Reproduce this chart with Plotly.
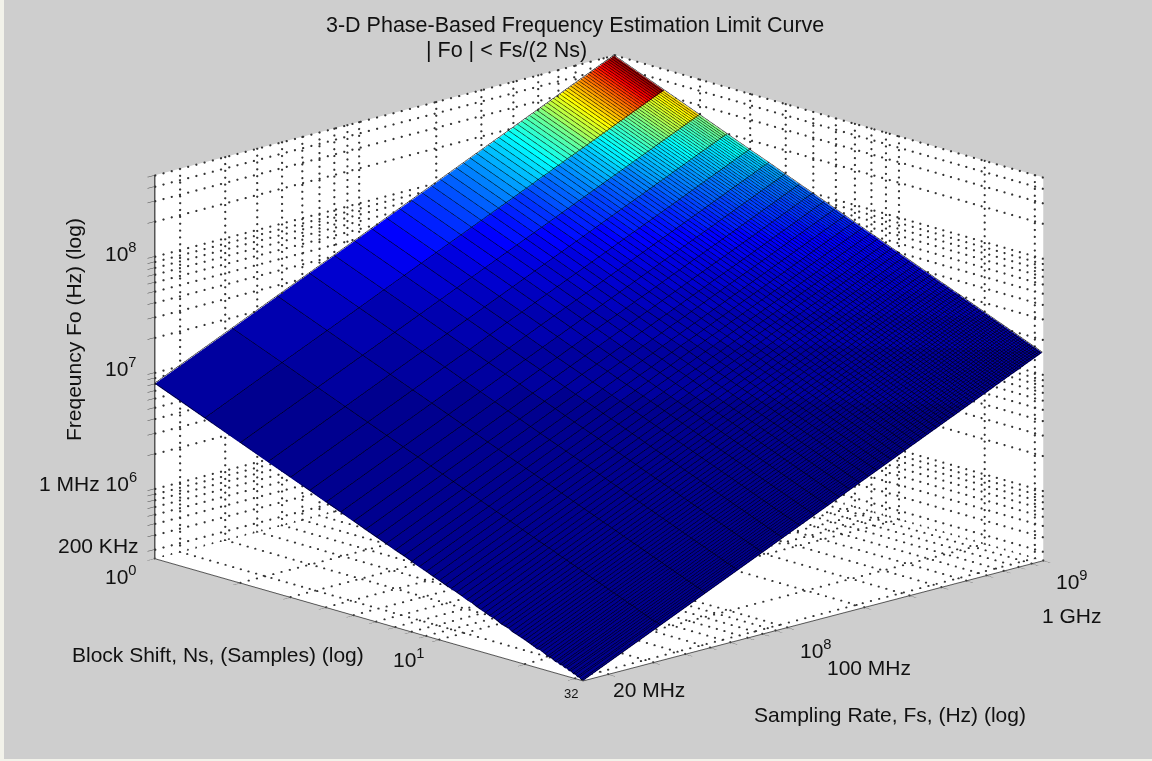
import math
import plotly.graph_objects as go

W, H = 1152, 761
ns_values = [1,1.5,2,2.5,3,3.5,4,4.5,5,5.5,6,6.5,7,7.5,8,8.5,9,9.5,10,10.5,11,11.5,12,12.5,13,13.5,14,14.5,15,15.5,16,16.5,17,17.5,18,18.5,19,19.5,20,20.5,21,21.5,22,22.5,23,23.5,24,24.5,25,25.5,26,26.5,27,27.5,28,28.5,29,29.5,30,30.5,31,31.5,32]
fs_mhz = [16,32,48,64,80,96,112,128,144,160,176,192,208,224,240,256,272,288,304,320,336,352,368,384,400,416,432,448,464,480,496,512,528,544,560,576,592,608,624,640,656,672,688,704,720,736,752,768,784,800,816,832,848,864,880,896,912,928,944,960,976,992]
fo_mhz = [
[8,16,24,32,40,48,56,64,72,80,88,96,104,112,120,128,136,144,152,160,168,176,184,192,200,208,216,224,232,240,248,256,264,272,280,288,296,304,312,320,328,336,344,352,360,368,376,384,392,400,408,416,424,432,440,448,456,464,472,480,488,496],
[5.33,10.7,16,21.3,26.7,32,37.3,42.7,48,53.3,58.7,64,69.3,74.7,80,85.3,90.7,96,101,107,112,117,123,128,133,139,144,149,155,160,165,171,176,181,187,192,197,203,208,213,219,224,229,235,240,245,251,256,261,267,272,277,283,288,293,299,304,309,315,320,325,331],
[4,8,12,16,20,24,28,32,36,40,44,48,52,56,60,64,68,72,76,80,84,88,92,96,100,104,108,112,116,120,124,128,132,136,140,144,148,152,156,160,164,168,172,176,180,184,188,192,196,200,204,208,212,216,220,224,228,232,236,240,244,248],
[3.2,6.4,9.6,12.8,16,19.2,22.4,25.6,28.8,32,35.2,38.4,41.6,44.8,48,51.2,54.4,57.6,60.8,64,67.2,70.4,73.6,76.8,80,83.2,86.4,89.6,92.8,96,99.2,102,106,109,112,115,118,122,125,128,131,134,138,141,144,147,150,154,157,160,163,166,170,173,176,179,182,186,189,192,195,198],
[2.67,5.33,8,10.7,13.3,16,18.7,21.3,24,26.7,29.3,32,34.7,37.3,40,42.7,45.3,48,50.7,53.3,56,58.7,61.3,64,66.7,69.3,72,74.7,77.3,80,82.7,85.3,88,90.7,93.3,96,98.7,101,104,107,109,112,115,117,120,123,125,128,131,133,136,139,141,144,147,149,152,155,157,160,163,165],
[2.29,4.57,6.86,9.14,11.4,13.7,16,18.3,20.6,22.9,25.1,27.4,29.7,32,34.3,36.6,38.9,41.1,43.4,45.7,48,50.3,52.6,54.9,57.1,59.4,61.7,64,66.3,68.6,70.9,73.1,75.4,77.7,80,82.3,84.6,86.9,89.1,91.4,93.7,96,98.3,101,103,105,107,110,112,114,117,119,121,123,126,128,130,133,135,137,139,142],
[2,4,6,8,10,12,14,16,18,20,22,24,26,28,30,32,34,36,38,40,42,44,46,48,50,52,54,56,58,60,62,64,66,68,70,72,74,76,78,80,82,84,86,88,90,92,94,96,98,100,102,104,106,108,110,112,114,116,118,120,122,124],
[1.78,3.56,5.33,7.11,8.89,10.7,12.4,14.2,16,17.8,19.6,21.3,23.1,24.9,26.7,28.4,30.2,32,33.8,35.6,37.3,39.1,40.9,42.7,44.4,46.2,48,49.8,51.6,53.3,55.1,56.9,58.7,60.4,62.2,64,65.8,67.6,69.3,71.1,72.9,74.7,76.4,78.2,80,81.8,83.6,85.3,87.1,88.9,90.7,92.4,94.2,96,97.8,99.6,101,103,105,107,108,110],
[1.6,3.2,4.8,6.4,8,9.6,11.2,12.8,14.4,16,17.6,19.2,20.8,22.4,24,25.6,27.2,28.8,30.4,32,33.6,35.2,36.8,38.4,40,41.6,43.2,44.8,46.4,48,49.6,51.2,52.8,54.4,56,57.6,59.2,60.8,62.4,64,65.6,67.2,68.8,70.4,72,73.6,75.2,76.8,78.4,80,81.6,83.2,84.8,86.4,88,89.6,91.2,92.8,94.4,96,97.6,99.2],
[1.45,2.91,4.36,5.82,7.27,8.73,10.2,11.6,13.1,14.5,16,17.5,18.9,20.4,21.8,23.3,24.7,26.2,27.6,29.1,30.5,32,33.5,34.9,36.4,37.8,39.3,40.7,42.2,43.6,45.1,46.5,48,49.5,50.9,52.4,53.8,55.3,56.7,58.2,59.6,61.1,62.5,64,65.5,66.9,68.4,69.8,71.3,72.7,74.2,75.6,77.1,78.5,80,81.5,82.9,84.4,85.8,87.3,88.7,90.2],
[1.33,2.67,4,5.33,6.67,8,9.33,10.7,12,13.3,14.7,16,17.3,18.7,20,21.3,22.7,24,25.3,26.7,28,29.3,30.7,32,33.3,34.7,36,37.3,38.7,40,41.3,42.7,44,45.3,46.7,48,49.3,50.7,52,53.3,54.7,56,57.3,58.7,60,61.3,62.7,64,65.3,66.7,68,69.3,70.7,72,73.3,74.7,76,77.3,78.7,80,81.3,82.7],
[1.23,2.46,3.69,4.92,6.15,7.38,8.62,9.85,11.1,12.3,13.5,14.8,16,17.2,18.5,19.7,20.9,22.2,23.4,24.6,25.8,27.1,28.3,29.5,30.8,32,33.2,34.5,35.7,36.9,38.2,39.4,40.6,41.8,43.1,44.3,45.5,46.8,48,49.2,50.5,51.7,52.9,54.2,55.4,56.6,57.8,59.1,60.3,61.5,62.8,64,65.2,66.5,67.7,68.9,70.2,71.4,72.6,73.8,75.1,76.3],
[1.14,2.29,3.43,4.57,5.71,6.86,8,9.14,10.3,11.4,12.6,13.7,14.9,16,17.1,18.3,19.4,20.6,21.7,22.9,24,25.1,26.3,27.4,28.6,29.7,30.9,32,33.1,34.3,35.4,36.6,37.7,38.9,40,41.1,42.3,43.4,44.6,45.7,46.9,48,49.1,50.3,51.4,52.6,53.7,54.9,56,57.1,58.3,59.4,60.6,61.7,62.9,64,65.1,66.3,67.4,68.6,69.7,70.9],
[1.07,2.13,3.2,4.27,5.33,6.4,7.47,8.53,9.6,10.7,11.7,12.8,13.9,14.9,16,17.1,18.1,19.2,20.3,21.3,22.4,23.5,24.5,25.6,26.7,27.7,28.8,29.9,30.9,32,33.1,34.1,35.2,36.3,37.3,38.4,39.5,40.5,41.6,42.7,43.7,44.8,45.9,46.9,48,49.1,50.1,51.2,52.3,53.3,54.4,55.5,56.5,57.6,58.7,59.7,60.8,61.9,62.9,64,65.1,66.1],
[1,2,3,4,5,6,7,8,9,10,11,12,13,14,15,16,17,18,19,20,21,22,23,24,25,26,27,28,29,30,31,32,33,34,35,36,37,38,39,40,41,42,43,44,45,46,47,48,49,50,51,52,53,54,55,56,57,58,59,60,61,62],
[.94,1.88,2.82,3.76,4.71,5.65,6.59,7.53,8.47,9.41,10.4,11.3,12.2,13.2,14.1,15.1,16,16.9,17.9,18.8,19.8,20.7,21.6,22.6,23.5,24.5,25.4,26.4,27.3,28.2,29.2,30.1,31.1,32,32.9,33.9,34.8,35.8,36.7,37.6,38.6,39.5,40.5,41.4,42.4,43.3,44.2,45.2,46.1,47.1,48,48.9,49.9,50.8,51.8,52.7,53.6,54.6,55.5,56.5,57.4,58.4],
[.89,1.78,2.67,3.56,4.44,5.33,6.22,7.11,8,8.89,9.78,10.7,11.6,12.4,13.3,14.2,15.1,16,16.9,17.8,18.7,19.6,20.4,21.3,22.2,23.1,24,24.9,25.8,26.7,27.6,28.4,29.3,30.2,31.1,32,32.9,33.8,34.7,35.6,36.4,37.3,38.2,39.1,40,40.9,41.8,42.7,43.6,44.4,45.3,46.2,47.1,48,48.9,49.8,50.7,51.6,52.4,53.3,54.2,55.1],
[.84,1.68,2.53,3.37,4.21,5.05,5.89,6.74,7.58,8.42,9.26,10.1,10.9,11.8,12.6,13.5,14.3,15.2,16,16.8,17.7,18.5,19.4,20.2,21.1,21.9,22.7,23.6,24.4,25.3,26.1,26.9,27.8,28.6,29.5,30.3,31.2,32,32.8,33.7,34.5,35.4,36.2,37.1,37.9,38.7,39.6,40.4,41.3,42.1,42.9,43.8,44.6,45.5,46.3,47.2,48,48.8,49.7,50.5,51.4,52.2],
[.8,1.6,2.4,3.2,4,4.8,5.6,6.4,7.2,8,8.8,9.6,10.4,11.2,12,12.8,13.6,14.4,15.2,16,16.8,17.6,18.4,19.2,20,20.8,21.6,22.4,23.2,24,24.8,25.6,26.4,27.2,28,28.8,29.6,30.4,31.2,32,32.8,33.6,34.4,35.2,36,36.8,37.6,38.4,39.2,40,40.8,41.6,42.4,43.2,44,44.8,45.6,46.4,47.2,48,48.8,49.6],
[.76,1.52,2.29,3.05,3.81,4.57,5.33,6.1,6.86,7.62,8.38,9.14,9.9,10.7,11.4,12.2,13,13.7,14.5,15.2,16,16.8,17.5,18.3,19,19.8,20.6,21.3,22.1,22.9,23.6,24.4,25.1,25.9,26.7,27.4,28.2,29,29.7,30.5,31.2,32,32.8,33.5,34.3,35,35.8,36.6,37.3,38.1,38.9,39.6,40.4,41.1,41.9,42.7,43.4,44.2,45,45.7,46.5,47.2],
[.73,1.45,2.18,2.91,3.64,4.36,5.09,5.82,6.55,7.27,8,8.73,9.45,10.2,10.9,11.6,12.4,13.1,13.8,14.5,15.3,16,16.7,17.5,18.2,18.9,19.6,20.4,21.1,21.8,22.5,23.3,24,24.7,25.5,26.2,26.9,27.6,28.4,29.1,29.8,30.5,31.3,32,32.7,33.5,34.2,34.9,35.6,36.4,37.1,37.8,38.5,39.3,40,40.7,41.5,42.2,42.9,43.6,44.4,45.1],
[.7,1.39,2.09,2.78,3.48,4.17,4.87,5.57,6.26,6.96,7.65,8.35,9.04,9.74,10.4,11.1,11.8,12.5,13.2,13.9,14.6,15.3,16,16.7,17.4,18.1,18.8,19.5,20.2,20.9,21.6,22.3,23,23.7,24.3,25,25.7,26.4,27.1,27.8,28.5,29.2,29.9,30.6,31.3,32,32.7,33.4,34.1,34.8,35.5,36.2,36.9,37.6,38.3,39,39.7,40.3,41,41.7,42.4,43.1],
[.67,1.33,2,2.67,3.33,4,4.67,5.33,6,6.67,7.33,8,8.67,9.33,10,10.7,11.3,12,12.7,13.3,14,14.7,15.3,16,16.7,17.3,18,18.7,19.3,20,20.7,21.3,22,22.7,23.3,24,24.7,25.3,26,26.7,27.3,28,28.7,29.3,30,30.7,31.3,32,32.7,33.3,34,34.7,35.3,36,36.7,37.3,38,38.7,39.3,40,40.7,41.3],
[.64,1.28,1.92,2.56,3.2,3.84,4.48,5.12,5.76,6.4,7.04,7.68,8.32,8.96,9.6,10.2,10.9,11.5,12.2,12.8,13.4,14.1,14.7,15.4,16,16.6,17.3,17.9,18.6,19.2,19.8,20.5,21.1,21.8,22.4,23,23.7,24.3,25,25.6,26.2,26.9,27.5,28.2,28.8,29.4,30.1,30.7,31.4,32,32.6,33.3,33.9,34.6,35.2,35.8,36.5,37.1,37.8,38.4,39,39.7],
[.62,1.23,1.85,2.46,3.08,3.69,4.31,4.92,5.54,6.15,6.77,7.38,8,8.62,9.23,9.85,10.5,11.1,11.7,12.3,12.9,13.5,14.2,14.8,15.4,16,16.6,17.2,17.8,18.5,19.1,19.7,20.3,20.9,21.5,22.2,22.8,23.4,24,24.6,25.2,25.8,26.5,27.1,27.7,28.3,28.9,29.5,30.2,30.8,31.4,32,32.6,33.2,33.8,34.5,35.1,35.7,36.3,36.9,37.5,38.2],
[.59,1.19,1.78,2.37,2.96,3.56,4.15,4.74,5.33,5.93,6.52,7.11,7.7,8.3,8.89,9.48,10.1,10.7,11.3,11.9,12.4,13,13.6,14.2,14.8,15.4,16,16.6,17.2,17.8,18.4,19,19.6,20.1,20.7,21.3,21.9,22.5,23.1,23.7,24.3,24.9,25.5,26.1,26.7,27.3,27.9,28.4,29,29.6,30.2,30.8,31.4,32,32.6,33.2,33.8,34.4,35,35.6,36.1,36.7],
[.57,1.14,1.71,2.29,2.86,3.43,4,4.57,5.14,5.71,6.29,6.86,7.43,8,8.57,9.14,9.71,10.3,10.9,11.4,12,12.6,13.1,13.7,14.3,14.9,15.4,16,16.6,17.1,17.7,18.3,18.9,19.4,20,20.6,21.1,21.7,22.3,22.9,23.4,24,24.6,25.1,25.7,26.3,26.9,27.4,28,28.6,29.1,29.7,30.3,30.9,31.4,32,32.6,33.1,33.7,34.3,34.9,35.4],
[.55,1.1,1.66,2.21,2.76,3.31,3.86,4.41,4.97,5.52,6.07,6.62,7.17,7.72,8.28,8.83,9.38,9.93,10.5,11,11.6,12.1,12.7,13.2,13.8,14.3,14.9,15.4,16,16.6,17.1,17.7,18.2,18.8,19.3,19.9,20.4,21,21.5,22.1,22.6,23.2,23.7,24.3,24.8,25.4,25.9,26.5,27,27.6,28.1,28.7,29.2,29.8,30.3,30.9,31.4,32,32.6,33.1,33.7,34.2],
[.53,1.07,1.6,2.13,2.67,3.2,3.73,4.27,4.8,5.33,5.87,6.4,6.93,7.47,8,8.53,9.07,9.6,10.1,10.7,11.2,11.7,12.3,12.8,13.3,13.9,14.4,14.9,15.5,16,16.5,17.1,17.6,18.1,18.7,19.2,19.7,20.3,20.8,21.3,21.9,22.4,22.9,23.5,24,24.5,25.1,25.6,26.1,26.7,27.2,27.7,28.3,28.8,29.3,29.9,30.4,30.9,31.5,32,32.5,33.1],
[.52,1.03,1.55,2.06,2.58,3.1,3.61,4.13,4.65,5.16,5.68,6.19,6.71,7.23,7.74,8.26,8.77,9.29,9.81,10.3,10.8,11.4,11.9,12.4,12.9,13.4,13.9,14.5,15,15.5,16,16.5,17,17.5,18.1,18.6,19.1,19.6,20.1,20.6,21.2,21.7,22.2,22.7,23.2,23.7,24.3,24.8,25.3,25.8,26.3,26.8,27.4,27.9,28.4,28.9,29.4,29.9,30.5,31,31.5,32],
[.5,1,1.5,2,2.5,3,3.5,4,4.5,5,5.5,6,6.5,7,7.5,8,8.5,9,9.5,10,10.5,11,11.5,12,12.5,13,13.5,14,14.5,15,15.5,16,16.5,17,17.5,18,18.5,19,19.5,20,20.5,21,21.5,22,22.5,23,23.5,24,24.5,25,25.5,26,26.5,27,27.5,28,28.5,29,29.5,30,30.5,31],
[.48,.97,1.45,1.94,2.42,2.91,3.39,3.88,4.36,4.85,5.33,5.82,6.3,6.79,7.27,7.76,8.24,8.73,9.21,9.7,10.2,10.7,11.2,11.6,12.1,12.6,13.1,13.6,14.1,14.5,15,15.5,16,16.5,17,17.5,17.9,18.4,18.9,19.4,19.9,20.4,20.8,21.3,21.8,22.3,22.8,23.3,23.8,24.2,24.7,25.2,25.7,26.2,26.7,27.2,27.6,28.1,28.6,29.1,29.6,30.1],
[.47,.94,1.41,1.88,2.35,2.82,3.29,3.76,4.24,4.71,5.18,5.65,6.12,6.59,7.06,7.53,8,8.47,8.94,9.41,9.88,10.4,10.8,11.3,11.8,12.2,12.7,13.2,13.6,14.1,14.6,15.1,15.5,16,16.5,16.9,17.4,17.9,18.4,18.8,19.3,19.8,20.2,20.7,21.2,21.6,22.1,22.6,23.1,23.5,24,24.5,24.9,25.4,25.9,26.4,26.8,27.3,27.8,28.2,28.7,29.2],
[.46,.91,1.37,1.83,2.29,2.74,3.2,3.66,4.11,4.57,5.03,5.49,5.94,6.4,6.86,7.31,7.77,8.23,8.69,9.14,9.6,10.1,10.5,11,11.4,11.9,12.3,12.8,13.3,13.7,14.2,14.6,15.1,15.5,16,16.5,16.9,17.4,17.8,18.3,18.7,19.2,19.7,20.1,20.6,21,21.5,21.9,22.4,22.9,23.3,23.8,24.2,24.7,25.1,25.6,26.1,26.5,27,27.4,27.9,28.3],
[.44,.89,1.33,1.78,2.22,2.67,3.11,3.56,4,4.44,4.89,5.33,5.78,6.22,6.67,7.11,7.56,8,8.44,8.89,9.33,9.78,10.2,10.7,11.1,11.6,12,12.4,12.9,13.3,13.8,14.2,14.7,15.1,15.6,16,16.4,16.9,17.3,17.8,18.2,18.7,19.1,19.6,20,20.4,20.9,21.3,21.8,22.2,22.7,23.1,23.6,24,24.4,24.9,25.3,25.8,26.2,26.7,27.1,27.6],
[.43,.86,1.3,1.73,2.16,2.59,3.03,3.46,3.89,4.32,4.76,5.19,5.62,6.05,6.49,6.92,7.35,7.78,8.22,8.65,9.08,9.51,9.95,10.4,10.8,11.2,11.7,12.1,12.5,13,13.4,13.8,14.3,14.7,15.1,15.6,16,16.4,16.9,17.3,17.7,18.2,18.6,19,19.5,19.9,20.3,20.8,21.2,21.6,22.1,22.5,22.9,23.4,23.8,24.2,24.6,25.1,25.5,25.9,26.4,26.8],
[.42,.84,1.26,1.68,2.11,2.53,2.95,3.37,3.79,4.21,4.63,5.05,5.47,5.89,6.32,6.74,7.16,7.58,8,8.42,8.84,9.26,9.68,10.1,10.5,10.9,11.4,11.8,12.2,12.6,13.1,13.5,13.9,14.3,14.7,15.2,15.6,16,16.4,16.8,17.3,17.7,18.1,18.5,18.9,19.4,19.8,20.2,20.6,21.1,21.5,21.9,22.3,22.7,23.2,23.6,24,24.4,24.8,25.3,25.7,26.1],
[.41,.82,1.23,1.64,2.05,2.46,2.87,3.28,3.69,4.1,4.51,4.92,5.33,5.74,6.15,6.56,6.97,7.38,7.79,8.21,8.62,9.03,9.44,9.85,10.3,10.7,11.1,11.5,11.9,12.3,12.7,13.1,13.5,13.9,14.4,14.8,15.2,15.6,16,16.4,16.8,17.2,17.6,18.1,18.5,18.9,19.3,19.7,20.1,20.5,20.9,21.3,21.7,22.2,22.6,23,23.4,23.8,24.2,24.6,25,25.4],
[.4,.8,1.2,1.6,2,2.4,2.8,3.2,3.6,4,4.4,4.8,5.2,5.6,6,6.4,6.8,7.2,7.6,8,8.4,8.8,9.2,9.6,10,10.4,10.8,11.2,11.6,12,12.4,12.8,13.2,13.6,14,14.4,14.8,15.2,15.6,16,16.4,16.8,17.2,17.6,18,18.4,18.8,19.2,19.6,20,20.4,20.8,21.2,21.6,22,22.4,22.8,23.2,23.6,24,24.4,24.8],
[.39,.78,1.17,1.56,1.95,2.34,2.73,3.12,3.51,3.9,4.29,4.68,5.07,5.46,5.85,6.24,6.63,7.02,7.41,7.8,8.2,8.59,8.98,9.37,9.76,10.1,10.5,10.9,11.3,11.7,12.1,12.5,12.9,13.3,13.7,14,14.4,14.8,15.2,15.6,16,16.4,16.8,17.2,17.6,18,18.3,18.7,19.1,19.5,19.9,20.3,20.7,21.1,21.5,21.9,22.2,22.6,23,23.4,23.8,24.2],
[.38,.76,1.14,1.52,1.9,2.29,2.67,3.05,3.43,3.81,4.19,4.57,4.95,5.33,5.71,6.1,6.48,6.86,7.24,7.62,8,8.38,8.76,9.14,9.52,9.9,10.3,10.7,11,11.4,11.8,12.2,12.6,13,13.3,13.7,14.1,14.5,14.9,15.2,15.6,16,16.4,16.8,17.1,17.5,17.9,18.3,18.7,19,19.4,19.8,20.2,20.6,21,21.3,21.7,22.1,22.5,22.9,23.2,23.6],
[.37,.74,1.12,1.49,1.86,2.23,2.6,2.98,3.35,3.72,4.09,4.47,4.84,5.21,5.58,5.95,6.33,6.7,7.07,7.44,7.81,8.19,8.56,8.93,9.3,9.67,10,10.4,10.8,11.2,11.5,11.9,12.3,12.7,13,13.4,13.8,14.1,14.5,14.9,15.3,15.6,16,16.4,16.7,17.1,17.5,17.9,18.2,18.6,19,19.3,19.7,20.1,20.5,20.8,21.2,21.6,22,22.3,22.7,23.1],
[.36,.73,1.09,1.45,1.82,2.18,2.55,2.91,3.27,3.64,4,4.36,4.73,5.09,5.45,5.82,6.18,6.55,6.91,7.27,7.64,8,8.36,8.73,9.09,9.45,9.82,10.2,10.5,10.9,11.3,11.6,12,12.4,12.7,13.1,13.5,13.8,14.2,14.5,14.9,15.3,15.6,16,16.4,16.7,17.1,17.5,17.8,18.2,18.5,18.9,19.3,19.6,20,20.4,20.7,21.1,21.5,21.8,22.2,22.5],
[.36,.71,1.07,1.42,1.78,2.13,2.49,2.84,3.2,3.56,3.91,4.27,4.62,4.98,5.33,5.69,6.04,6.4,6.76,7.11,7.47,7.82,8.18,8.53,8.89,9.24,9.6,9.96,10.3,10.7,11,11.4,11.7,12.1,12.4,12.8,13.2,13.5,13.9,14.2,14.6,14.9,15.3,15.6,16,16.4,16.7,17.1,17.4,17.8,18.1,18.5,18.8,19.2,19.6,19.9,20.3,20.6,21,21.3,21.7,22],
[.35,.7,1.04,1.39,1.74,2.09,2.43,2.78,3.13,3.48,3.83,4.17,4.52,4.87,5.22,5.57,5.91,6.26,6.61,6.96,7.3,7.65,8,8.35,8.7,9.04,9.39,9.74,10.1,10.4,10.8,11.1,11.5,11.8,12.2,12.5,12.9,13.2,13.6,13.9,14.3,14.6,15,15.3,15.7,16,16.3,16.7,17,17.4,17.7,18.1,18.4,18.8,19.1,19.5,19.8,20.2,20.5,20.9,21.2,21.6],
[.34,.68,1.02,1.36,1.7,2.04,2.38,2.72,3.06,3.4,3.74,4.09,4.43,4.77,5.11,5.45,5.79,6.13,6.47,6.81,7.15,7.49,7.83,8.17,8.51,8.85,9.19,9.53,9.87,10.2,10.6,10.9,11.2,11.6,11.9,12.3,12.6,12.9,13.3,13.6,14,14.3,14.6,15,15.3,15.7,16,16.3,16.7,17,17.4,17.7,18,18.4,18.7,19.1,19.4,19.7,20.1,20.4,20.8,21.1],
[.33,.67,1,1.33,1.67,2,2.33,2.67,3,3.33,3.67,4,4.33,4.67,5,5.33,5.67,6,6.33,6.67,7,7.33,7.67,8,8.33,8.67,9,9.33,9.67,10,10.3,10.7,11,11.3,11.7,12,12.3,12.7,13,13.3,13.7,14,14.3,14.7,15,15.3,15.7,16,16.3,16.7,17,17.3,17.7,18,18.3,18.7,19,19.3,19.7,20,20.3,20.7],
[.33,.65,.98,1.31,1.63,1.96,2.29,2.61,2.94,3.27,3.59,3.92,4.24,4.57,4.9,5.22,5.55,5.88,6.2,6.53,6.86,7.18,7.51,7.84,8.16,8.49,8.82,9.14,9.47,9.8,10.1,10.4,10.8,11.1,11.4,11.8,12.1,12.4,12.7,13.1,13.4,13.7,14,14.4,14.7,15,15.3,15.7,16,16.3,16.7,17,17.3,17.6,18,18.3,18.6,18.9,19.3,19.6,19.9,20.2],
[.32,.64,.96,1.28,1.6,1.92,2.24,2.56,2.88,3.2,3.52,3.84,4.16,4.48,4.8,5.12,5.44,5.76,6.08,6.4,6.72,7.04,7.36,7.68,8,8.32,8.64,8.96,9.28,9.6,9.92,10.2,10.6,10.9,11.2,11.5,11.8,12.2,12.5,12.8,13.1,13.4,13.8,14.1,14.4,14.7,15,15.4,15.7,16,16.3,16.6,17,17.3,17.6,17.9,18.2,18.6,18.9,19.2,19.5,19.8],
[.31,.63,.94,1.25,1.57,1.88,2.2,2.51,2.82,3.14,3.45,3.76,4.08,4.39,4.71,5.02,5.33,5.65,5.96,6.27,6.59,6.9,7.22,7.53,7.84,8.16,8.47,8.78,9.1,9.41,9.73,10,10.4,10.7,11,11.3,11.6,11.9,12.2,12.5,12.9,13.2,13.5,13.8,14.1,14.4,14.7,15.1,15.4,15.7,16,16.3,16.6,16.9,17.3,17.6,17.9,18.2,18.5,18.8,19.1,19.5],
[.31,.62,.92,1.23,1.54,1.85,2.15,2.46,2.77,3.08,3.38,3.69,4,4.31,4.62,4.92,5.23,5.54,5.85,6.15,6.46,6.77,7.08,7.38,7.69,8,8.31,8.62,8.92,9.23,9.54,9.85,10.2,10.5,10.8,11.1,11.4,11.7,12,12.3,12.6,12.9,13.2,13.5,13.8,14.2,14.5,14.8,15.1,15.4,15.7,16,16.3,16.6,16.9,17.2,17.5,17.8,18.2,18.5,18.8,19.1],
[.3,.6,.91,1.21,1.51,1.81,2.11,2.42,2.72,3.02,3.32,3.62,3.92,4.23,4.53,4.83,5.13,5.43,5.74,6.04,6.34,6.64,6.94,7.25,7.55,7.85,8.15,8.45,8.75,9.06,9.36,9.66,9.96,10.3,10.6,10.9,11.2,11.5,11.8,12.1,12.4,12.7,13,13.3,13.6,13.9,14.2,14.5,14.8,15.1,15.4,15.7,16,16.3,16.6,16.9,17.2,17.5,17.8,18.1,18.4,18.7],
[.3,.59,.89,1.19,1.48,1.78,2.07,2.37,2.67,2.96,3.26,3.56,3.85,4.15,4.44,4.74,5.04,5.33,5.63,5.93,6.22,6.52,6.81,7.11,7.41,7.7,8,8.3,8.59,8.89,9.19,9.48,9.78,10.1,10.4,10.7,11,11.3,11.6,11.9,12.1,12.4,12.7,13,13.3,13.6,13.9,14.2,14.5,14.8,15.1,15.4,15.7,16,16.3,16.6,16.9,17.2,17.5,17.8,18.1,18.4],
[.29,.58,.87,1.16,1.45,1.75,2.04,2.33,2.62,2.91,3.2,3.49,3.78,4.07,4.36,4.65,4.95,5.24,5.53,5.82,6.11,6.4,6.69,6.98,7.27,7.56,7.85,8.15,8.44,8.73,9.02,9.31,9.6,9.89,10.2,10.5,10.8,11.1,11.3,11.6,11.9,12.2,12.5,12.8,13.1,13.4,13.7,14,14.3,14.5,14.8,15.1,15.4,15.7,16,16.3,16.6,16.9,17.2,17.5,17.7,18],
[.29,.57,.86,1.14,1.43,1.71,2,2.29,2.57,2.86,3.14,3.43,3.71,4,4.29,4.57,4.86,5.14,5.43,5.71,6,6.29,6.57,6.86,7.14,7.43,7.71,8,8.29,8.57,8.86,9.14,9.43,9.71,10,10.3,10.6,10.9,11.1,11.4,11.7,12,12.3,12.6,12.9,13.1,13.4,13.7,14,14.3,14.6,14.9,15.1,15.4,15.7,16,16.3,16.6,16.9,17.1,17.4,17.7],
[.28,.56,.84,1.12,1.4,1.68,1.96,2.25,2.53,2.81,3.09,3.37,3.65,3.93,4.21,4.49,4.77,5.05,5.33,5.61,5.89,6.18,6.46,6.74,7.02,7.3,7.58,7.86,8.14,8.42,8.7,8.98,9.26,9.54,9.82,10.1,10.4,10.7,10.9,11.2,11.5,11.8,12.1,12.4,12.6,12.9,13.2,13.5,13.8,14,14.3,14.6,14.9,15.2,15.4,15.7,16,16.3,16.6,16.8,17.1,17.4],
[.28,.55,.83,1.1,1.38,1.66,1.93,2.21,2.48,2.76,3.03,3.31,3.59,3.86,4.14,4.41,4.69,4.97,5.24,5.52,5.79,6.07,6.34,6.62,6.9,7.17,7.45,7.72,8,8.28,8.55,8.83,9.1,9.38,9.66,9.93,10.2,10.5,10.8,11,11.3,11.6,11.9,12.1,12.4,12.7,13,13.2,13.5,13.8,14.1,14.3,14.6,14.9,15.2,15.4,15.7,16,16.3,16.6,16.8,17.1],
[.27,.54,.81,1.08,1.36,1.63,1.9,2.17,2.44,2.71,2.98,3.25,3.53,3.8,4.07,4.34,4.61,4.88,5.15,5.42,5.69,5.97,6.24,6.51,6.78,7.05,7.32,7.59,7.86,8.14,8.41,8.68,8.95,9.22,9.49,9.76,10,10.3,10.6,10.8,11.1,11.4,11.7,11.9,12.2,12.5,12.7,13,13.3,13.6,13.8,14.1,14.4,14.6,14.9,15.2,15.5,15.7,16,16.3,16.5,16.8],
[.27,.53,.8,1.07,1.33,1.6,1.87,2.13,2.4,2.67,2.93,3.2,3.47,3.73,4,4.27,4.53,4.8,5.07,5.33,5.6,5.87,6.13,6.4,6.67,6.93,7.2,7.47,7.73,8,8.27,8.53,8.8,9.07,9.33,9.6,9.87,10.1,10.4,10.7,10.9,11.2,11.5,11.7,12,12.3,12.5,12.8,13.1,13.3,13.6,13.9,14.1,14.4,14.7,14.9,15.2,15.5,15.7,16,16.3,16.5],
[.26,.52,.79,1.05,1.31,1.57,1.84,2.1,2.36,2.62,2.89,3.15,3.41,3.67,3.93,4.2,4.46,4.72,4.98,5.25,5.51,5.77,6.03,6.3,6.56,6.82,7.08,7.34,7.61,7.87,8.13,8.39,8.66,8.92,9.18,9.44,9.7,9.97,10.2,10.5,10.8,11,11.3,11.5,11.8,12.1,12.3,12.6,12.9,13.1,13.4,13.6,13.9,14.2,14.4,14.7,15,15.2,15.5,15.7,16,16.3],
[.26,.52,.77,1.03,1.29,1.55,1.81,2.06,2.32,2.58,2.84,3.1,3.35,3.61,3.87,4.13,4.39,4.65,4.9,5.16,5.42,5.68,5.94,6.19,6.45,6.71,6.97,7.23,7.48,7.74,8,8.26,8.52,8.77,9.03,9.29,9.55,9.81,10.1,10.3,10.6,10.8,11.1,11.4,11.6,11.9,12.1,12.4,12.6,12.9,13.2,13.4,13.7,13.9,14.2,14.5,14.7,15,15.2,15.5,15.7,16],
[.25,.51,.76,1.02,1.27,1.52,1.78,2.03,2.29,2.54,2.79,3.05,3.3,3.56,3.81,4.06,4.32,4.57,4.83,5.08,5.33,5.59,5.84,6.1,6.35,6.6,6.86,7.11,7.37,7.62,7.87,8.13,8.38,8.63,8.89,9.14,9.4,9.65,9.9,10.2,10.4,10.7,10.9,11.2,11.4,11.7,11.9,12.2,12.4,12.7,13,13.2,13.5,13.7,14,14.2,14.5,14.7,15,15.2,15.5,15.7],
[.25,.5,.75,1,1.25,1.5,1.75,2,2.25,2.5,2.75,3,3.25,3.5,3.75,4,4.25,4.5,4.75,5,5.25,5.5,5.75,6,6.25,6.5,6.75,7,7.25,7.5,7.75,8,8.25,8.5,8.75,9,9.25,9.5,9.75,10,10.3,10.5,10.8,11,11.3,11.5,11.8,12,12.3,12.5,12.8,13,13.3,13.5,13.8,14,14.3,14.5,14.8,15,15.3,15.5],
]
z_ticks = [3e5,4e5,5e5,6e5,7e5,8e5,9e5,1e6,2e6,3e6,4e6,5e6,6e6,7e6,8e6,9e6,1e7,2e7,3e7,4e7,5e7,6e7,7e7,8e7,9e7,1e8,2e8,3e8,4e8,5e8]
ns_ticks = [1,2,3,4,5,6,7,8,9,10,20,30]
fs_ticks = [2e7,3e7,4e7,5e7,6e7,7e7,8e7,9e7,1e8,2e8,3e8,4e8,5e8,6e8,7e8,8e8,9e8,1e9]
ns_range = [1, 32]
fs_range = [16e6, 1e9]
z_range = [2.5e5, 5e8]

def lr(r): return [math.log10(r[0]), math.log10(r[1])]

def jet(t):
    idx = min(63, max(0, int(t*64)))
    t = (idx+1)/64
    def c(v): return int(round(255*max(0.0, min(1.0, v))))
    return 'rgb(%d,%d,%d)' % (c(1.5-abs(4*t-3)), c(1.5-abs(4*t-2)), c(1.5-abs(4*t-1)))

fig = go.Figure()
ni, nj = len(ns_values), len(fs_mhz)
xs, ys, zs, ii, jj, kk, fc = [], [], [], [], [], [], []
lo, hi = fo_mhz[-1][0], fo_mhz[0][-1]
for a, n in enumerate(ns_values):
    for b, f in enumerate(fs_mhz):
        xs.append(n); ys.append(f*1e6); zs.append(fo_mhz[a][b]*1e6)
for a in range(ni-1):
    for b in range(nj-1):
        p = a*nj+b
        col = jet((fo_mhz[a][b]-lo)/(hi-lo))
        ii += [p, p]; jj += [p+1, p+nj+1]; kk += [p+nj+1, p+nj]; fc += [col, col]
fig.add_trace(go.Mesh3d(x=xs, y=ys, z=zs, i=ii, j=jj, k=kk, facecolor=fc, flatshading=True,
                        lighting=dict(ambient=1, diffuse=0, specular=0, roughness=1, fresnel=0), hoverinfo='skip'))
LIFT = 1.015
lx, ly, lz = [], [], []
for a, n in enumerate(ns_values):
    for b, f in enumerate(fs_mhz):
        lx.append(n); ly.append(f*1e6); lz.append(fo_mhz[a][b]*1e6*LIFT)
    lx.append(None); ly.append(None); lz.append(None)
for b, f in enumerate(fs_mhz):
    for a, n in enumerate(ns_values):
        lx.append(n); ly.append(f*1e6); lz.append(fo_mhz[a][b]*1e6*LIFT)
    lx.append(None); ly.append(None); lz.append(None)
fig.add_trace(go.Scatter3d(x=lx, y=ly, z=lz, mode='lines', line=dict(color='black', width=1), hoverinfo='skip', showlegend=False, connectgaps=False))

# dotted wall grid, drawn as rows of small dots along each tick value
N_DOT = 56
def steps(r):
    return [r[0]*(r[1]/r[0])**(k/N_DOT) for k in range(N_DOT+1)]
nsb, fsb, zb = ns_range[0]*1.004, fs_range[1]*0.996, z_range[0]*1.006
gx, gy, gz = [], [], []
def add(xv, yv, zv):
    gx.extend(xv); gy.extend(yv); gz.extend(zv)
sx, sy, sz = steps(ns_range), steps(fs_range), steps(z_range)
for z in z_ticks:
    add(sx, [fsb]*len(sx), [z]*len(sx))
    add([nsb]*len(sy), sy, [z]*len(sy))
for n in ns_ticks:
    add([n]*len(sz), [fsb]*len(sz), sz)
    add([n]*len(sy), sy, [zb]*len(sy))
for f in fs_ticks:
    add([nsb]*len(sz), [f]*len(sz), sz)
    add(sx, [f]*len(sx), [zb]*len(sx))
fig.add_trace(go.Scatter3d(x=gx, y=gy, z=gz, mode='markers', marker=dict(color='#333333', size=1.3, line=dict(width=0)), hoverinfo='skip', showlegend=False))

def ax(tv, r, lw=2):
    return dict(type='log', range=lr(r), tickvals=tv, ticktext=['']*len(tv), showticklabels=False, showgrid=False,
                zeroline=False, showline=True, linecolor='#555555', linewidth=lw, ticks='outside', ticklen=10, tickcolor='#444444', tickwidth=1,
                showbackground=True, backgroundcolor='white', title=dict(text=''), showspikes=False, autorange=False)

fig.update_layout(width=W, height=H, margin=dict(l=0, r=0, t=0, b=0), paper_bgcolor='#f2f2ea', showlegend=False,
    font=dict(family='Liberation Sans', size=21, color='#111111'),
    shapes=[dict(type='rect', xref='paper', yref='paper', x0=4/W, x1=1, y0=1-759/H, y1=1, fillcolor='#cecece', line=dict(width=0), layer='below')],
    scene=dict(domain=dict(x=[0.04, 1.0], y=[0.033, 1.0]), aspectmode='manual', aspectratio=dict(x=1.684, y=1.730, z=1.083),
        camera=dict(projection=dict(type='orthographic'), eye=dict(x=1.39, y=-1.33, z=0.546), up=dict(x=0, y=0, z=1), center=dict(x=0, y=0, z=0)),
        xaxis=ax(ns_ticks, ns_range), yaxis=ax(fs_ticks, fs_range), zaxis=ax(z_ticks, z_range, 3)))

def label(text, px, py, anchor='left', size=21, angle=0):
    return dict(text=text, x=px/W, y=1-py/H, xref='paper', yref='paper', xanchor=anchor, yanchor='middle', showarrow=False,
                font=dict(family='Liberation Sans', size=size, color='#111111'), textangle=angle)
fig.update_layout(annotations=[
    label('3-D Phase-Based Frequency Estimation Limit Curve', 575, 25, 'center', 21.5),
    label('| Fo | &lt; Fs/(2 Ns)', 506, 50, 'center', 21.5),
    label('Freqeuncy Fo (Hz) (log)', 74, 330, 'center', angle=-90),
    label('10<sup>8</sup>', 139, 252, 'right'), label('10<sup>7</sup>', 139, 367, 'right'),
    label('1 MHz 10<sup>6</sup>', 139, 482, 'right'), label('200 KHz', 141, 545, 'right'),
    label('10<sup>0</sup>', 139, 575, 'right'), label('10<sup>1</sup>', 427, 658, 'right'),
    label('32', 571, 693, 'center', 13), label('20 MHz', 611, 689), label('10<sup>8</sup>', 834, 649, 'right'),
    label('100 MHz', 825, 667), label('10<sup>9</sup>', 1090, 580, 'right'), label('1 GHz', 1040, 615),
    label('Block Shift, Ns, (Samples) (log)', 70, 654), label('Sampling Rate, Fs, (Hz) (log)', 752, 714),
])
fig.write_html('out.html', config=dict(displayModeBar=False), post_script="document.body.style.margin='0';document.body.style.overflow='hidden';")
